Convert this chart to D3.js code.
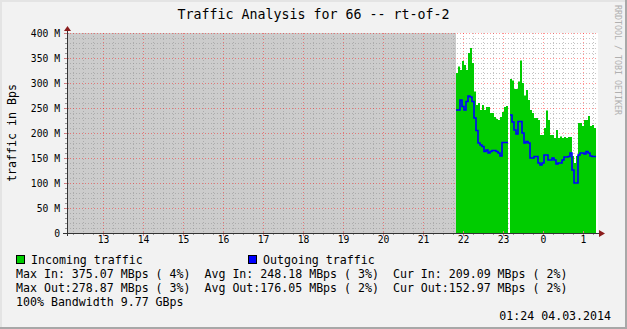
<!DOCTYPE html>
<html>
<head>
<meta charset="utf-8">
<style>
body { margin: 0; background: #f2f2f2; }
svg { display: block; font-family: "DejaVu Sans Mono", monospace; }
</style>
</head>
<body>
<svg width="627" height="329"></svg>
<script src="https://d3js.org/d3.v7.min.js"></script>
<script>

// data, MBps, one value every 3 minutes starting 21:49.5
var startHour = 21.825,
    stepMinutes = 3;

var inTraffic = [320,333,326,344,336,326,360,370,340,283,256,260,246,256,246,252,252,240,240,232,
                 228,226,232,242,252,254,null,308,305,288,288,303,345,300,275,286,266,246,240,230,
                 230,226,196,196,210,245,226,196,196,190,206,190,193,190,192,190,192,192,154,140,
                 154,220,220,214,226,226,234,214,216,210];

var outTraffic = [246,246,266,253,246,263,274,272,263,230,205,180,176,173,163,166,160,163,165,165,
                  163,160,154,181,181,181,null,236,222,206,198,223,223,200,180,183,180,150,150,153,
                  153,140,136,140,156,156,146,146,150,146,138,140,140,146,152,152,153,160,126,100,
                  100,156,160,160,158,163,160,154,153,153];

var hourTicks = [13,14,15,16,17,18,19,20,21,22,23,24,25];
var yTicks = [0,50,100,150,200,250,300,350,400];

var seriesNames = ["Incoming traffic", "Outgoing traffic"];
var statLines = [
  "Max In: 375.07 MBps ( 4%)  Avg In: 248.18 MBps ( 3%)  Cur In: 209.09 MBps ( 2%)",
  "Max Out:278.87 MBps ( 3%)  Avg Out:176.05 MBps ( 2%)  Cur Out:152.97 MBps ( 2%)",
  "100% Bandwidth 9.77 GBps"
];
var title = "Traffic Analysis for 66 -- rt-of-2";
var yTitle = "traffic in Bps";
var stamp = "01:24 04.03.2014";
var watermark = "RRDTOOL / TOBI OETIKER";

var svg = d3.select("svg"),
    W = +svg.attr("width"), H = +svg.attr("height");

var colIn = "#00cc00", colOut = "#0000ff";

var x = d3.scaleLinear().domain([12.1, 25.375]).range([67, 598]);
var y = d3.scaleLinear().domain([0, 400]).range([233, 33]);

// background + 3d frame
svg.append("rect").attr("width", W).attr("height", H).attr("fill", "#f2f2f2");
svg.append("path").attr("d", "M0,0H" + W + "V2H2V" + H + "H0Z").attr("fill", "#e4e4e4");
svg.append("path").attr("d", "M" + W + ",0V" + H + "H0V" + (H - 2) + "H" + (W - 2) + "V0Z").attr("fill", "#a8a8a8");

// canvas
svg.append("rect")
    .attr("x", x.range()[0]).attr("y", y(400))
    .attr("width", x.range()[1] - x.range()[0]).attr("height", y(0) - y(400))
    .attr("fill", "#fff");

// unknown region before data
svg.append("rect")
    .attr("x", x.range()[0]).attr("y", y(400))
    .attr("width", x(startHour) - x.range()[0]).attr("height", y(0) - y(400))
    .attr("fill", "#cccccc");

// grid
var grid = svg.append("g").attr("shape-rendering", "crispEdges");
var minorX = d3.range(49, 102).map(function(q) { return q / 4; })
    .filter(function(h) { return h % 1 != 0 && h > x.domain()[0] && h < x.domain()[1]; });
var minorY = d3.range(1, 40).map(function(q) { return q * 10; })
    .filter(function(v) { return v % 50 != 0; });

var minorCol = "rgba(140,140,140,0.5)", majorCol = "rgba(255,0,0,0.42)";

grid.selectAll(".mx").data(minorX).enter().append("line")
    .attr("x1", function(d) { return Math.round(x(d)) + 0.5; })
    .attr("x2", function(d) { return Math.round(x(d)) + 0.5; })
    .attr("y1", y(400)).attr("y2", y(0))
    .attr("stroke", minorCol).attr("stroke-dasharray", "1,2");
grid.selectAll(".my").data(minorY).enter().append("line")
    .attr("x1", x.range()[0]).attr("x2", x.range()[1])
    .attr("y1", function(d) { return Math.round(y(d)) + 0.5; })
    .attr("y2", function(d) { return Math.round(y(d)) + 0.5; })
    .attr("stroke", minorCol).attr("stroke-dasharray", "1,2");
grid.selectAll(".Mx").data(hourTicks).enter().append("line")
    .attr("x1", function(d) { return Math.round(x(d)) + 0.5; })
    .attr("x2", function(d) { return Math.round(x(d)) + 0.5; })
    .attr("y1", y(400)).attr("y2", y(0))
    .attr("stroke", majorCol).attr("stroke-dasharray", "1,2");
grid.selectAll(".My").data(yTicks.slice(1)).enter().append("line")
    .attr("x1", x.range()[0]).attr("x2", x.range()[1])
    .attr("y1", function(d) { return Math.round(y(d)) + 0.5; })
    .attr("y2", function(d) { return Math.round(y(d)) + 0.5; })
    .attr("stroke", majorCol).attr("stroke-dasharray", "1,2");

// step points (each value covers its 3 min slot)
var step = stepMinutes / 60;
function steps(vals) {
  var pts = [];
  vals.forEach(function(v, i) {
    var t = startHour + i * step;
    pts.push({t: t, v: v});
    pts.push({t: t + step, v: v});
  });
  return pts;
}

var area = d3.area()
    .defined(function(d) { return d.v != null; })
    .x(function(d) { return x(d.t); })
    .y0(y(0))
    .y1(function(d) { return y(d.v); });

var line = d3.line()
    .defined(function(d) { return d.v != null; })
    .x(function(d) { return x(d.t); })
    .y(function(d) { return y(d.v); });

svg.append("path").attr("d", area(steps(inTraffic))).attr("fill", colIn);
svg.append("path").attr("d", line(steps(outTraffic)))
    .attr("fill", "none").attr("stroke", colOut).attr("stroke-width", 1.6);

// small ticks on the axes
var ticks = svg.append("g").attr("shape-rendering", "crispEdges");
ticks.selectAll(".tx").data(minorX).enter().append("line")
    .attr("x1", function(d) { return Math.round(x(d)) + 0.5; })
    .attr("x2", function(d) { return Math.round(x(d)) + 0.5; })
    .attr("y1", y(0)).attr("y2", y(0) + 2).attr("stroke", "#999");
ticks.selectAll(".Tx").data(hourTicks).enter().append("line")
    .attr("x1", function(d) { return Math.round(x(d)) + 0.5; })
    .attr("x2", function(d) { return Math.round(x(d)) + 0.5; })
    .attr("y1", y(0) - 2).attr("y2", y(0) + 3).attr("stroke", "#d08080");
ticks.selectAll(".ty").data(minorY).enter().append("line")
    .attr("x1", x.range()[0] - 2).attr("x2", x.range()[0])
    .attr("y1", function(d) { return Math.round(y(d)) + 0.5; })
    .attr("y2", function(d) { return Math.round(y(d)) + 0.5; }).attr("stroke", "#999");
ticks.selectAll(".Ty").data(yTicks).enter().append("line")
    .attr("x1", x.range()[0] - 3).attr("x2", x.range()[0] + 2)
    .attr("y1", function(d) { return Math.round(y(d)) + 0.5; })
    .attr("y2", function(d) { return Math.round(y(d)) + 0.5; }).attr("stroke", "#d08080");

// axes lines + arrows
var x0 = x.range()[0], y0 = y(0);
svg.append("line").attr("x1", x0 + 0.5).attr("x2", x0 + 0.5).attr("y1", y0 + 3).attr("y2", 31)
    .attr("stroke", "#333").attr("shape-rendering", "crispEdges");
svg.append("line").attr("x1", x0 - 4).attr("x2", 600).attr("y1", y0 + 0.5).attr("y2", y0 + 0.5)
    .attr("stroke", "#333").attr("shape-rendering", "crispEdges");
svg.append("path").attr("d", "M" + (x0 - 3) + ",31L" + (x0 + 4) + ",31L" + (x0 + 0.5) + ",26Z").attr("fill", "#8b1c1c");
svg.append("path").attr("d", "M599," + (y0 - 3) + "L599," + (y0 + 4) + "L605," + (y0 + 0.5) + "Z").attr("fill", "#8b1c1c");

// axis labels through d3 axes
var xAxis = svg.append("g")
    .attr("transform", "translate(0," + y0 + ")")
    .call(d3.axisBottom(x).tickValues(hourTicks).tickSize(0).tickPadding(3)
          .tickFormat(function(d) { return d % 24; }));
var yAxis = svg.append("g")
    .attr("transform", "translate(" + x0 + ",0)")
    .call(d3.axisLeft(y).tickValues(yTicks).tickSize(0).tickPadding(7)
          .tickFormat(function(d) { return d == 0 ? "0" : d + " M"; }));
[xAxis, yAxis].forEach(function(a) {
  a.select(".domain").remove();
  a.selectAll("text").attr("font-family", "DejaVu Sans Mono").attr("font-size", 9.7).attr("fill", "#000");
});

// title, y title, watermark
svg.append("text").attr("x", 313.5).attr("y", 19).attr("text-anchor", "middle")
    .attr("font-size", 13.3).text(title);
svg.append("text").attr("transform", "translate(16,133) rotate(-90)")
    .attr("text-anchor", "middle").attr("font-size", 11.6).text(yTitle);
svg.append("text").attr("transform", "translate(615,5) rotate(90)")
    .attr("font-size", 8.3).attr("fill", "#b0b0b0").text(watermark);

// legend
var legend = svg.append("g").attr("font-size", 11.6);
var legendX = [16, 248];
seriesNames.forEach(function(name, i) {
  legend.append("rect").attr("x", legendX[i] + 0.5).attr("y", 255.5).attr("width", 8).attr("height", 8)
      .attr("fill", [colIn, colOut][i]).attr("stroke", "#000");
  legend.append("text").attr("x", legendX[i] + 15).attr("y", 263.5).text(name);
});
statLines.forEach(function(s, i) {
  legend.append("text").attr("x", 16).attr("y", 277.5 + i * 14)
      .style("white-space", "pre").text(s);
});
legend.append("text").attr("x", 611).attr("y", 319.5).attr("text-anchor", "end").text(stamp);

</script>
</body>
</html>
